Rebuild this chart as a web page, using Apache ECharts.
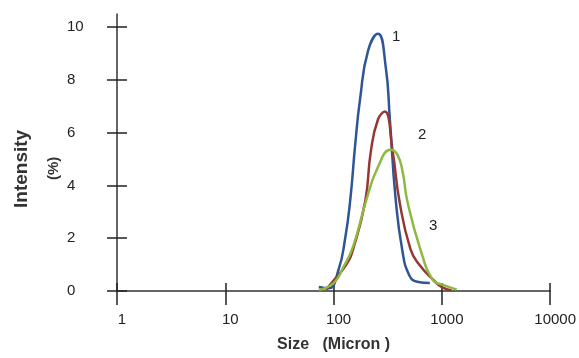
<!DOCTYPE html>
<html>
<head>
<meta charset="utf-8">
<script src="https://cdn.jsdelivr.net/npm/echarts@6/dist/echarts.min.js"></script>
<style>
  html, body { margin: 0; padding: 0; background: #fff; }
  #chart { width: 579px; height: 358px; }
</style>
</head>
<body>
<div id="chart"></div>
<script>
// size (micron) / intensity (%)
const sizes1 = [73, 90, 111, 128, 143, 158, 176, 208, 257, 303, 331, 374, 433, 500, 592, 774]
const values1 = [0.15, 0.1, 0.8, 2, 3.5, 5.5, 7.3, 9.1, 9.75, 8.5, 6.5, 3.5, 1.5, 0.6, 0.35, 0.3]

const sizes2 = [85, 100, 131, 152, 196, 221, 257, 297, 351, 406, 512, 617, 845, 1000, 1230]
const values2 = [0.05, 0.4, 1.0, 1.6, 3.4, 5.3, 6.5, 6.8, 5.3, 3.4, 1.6, 1.0, 0.4, 0.15, 0.02]

const sizes3 = [73, 100, 123, 152, 199, 257, 337, 390, 435, 480, 631, 830, 1000, 1370]
const values3 = [0.05, 0.3, 0.9, 1.7, 3.4, 4.7, 5.35, 5.15, 4.5, 3.4, 1.6, 0.4, 0.25, 0.05]

const xTicks = [1, 10, 100, 1000, 10000]
const yTicks = [0, 2, 4, 6, 8, 10]

const font = "'Liberation Sans', Arial, sans-serif"
const chart = echarts.init(document.getElementById("chart"))

const pairs = (xs, ys) => xs.map((x, i) => [x, ys[i]])

const lineSeries = (name, xs, ys, color) => ({
  name,
  type: "line",
  data: pairs(xs, ys),
  smooth: 0.5,
  showSymbol: false,
  lineStyle: { color, width: 2.5 },
  z: name === "3" ? 4 : name === "2" ? 3 : 2,
})

const xBase = {
  type: "log",
  logBase: 10,
  min: xTicks[0],
  max: xTicks[xTicks.length - 1],
  position: "bottom",
  splitLine: { show: false },
  minorTick: { show: false },
}

const yBase = {
  type: "value",
  min: 0,
  max: 10.5,
  interval: 2,
  position: "left",
  splitLine: { show: false },
}

chart.setOption({
  backgroundColor: "#fff",
  animation: false,
  grid: { left: 117, right: 28, top: 14, bottom: 63 },
  xAxis: [
    {
      ...xBase,
      axisLine: { lineStyle: { color: "#333", width: 1.5 } },
      axisTick: { length: 14, lineStyle: { color: "#222", width: 1.5 } },
      axisLabel: {
        color: "#222",
        fontSize: 15,
        fontFamily: font,
        margin: 21,
        padding: [0, 0, 0, 10],
        formatter: (v) => (xTicks.includes(v) ? String(v) : ""),
      },
      name: "Size   (Micron )",
      nameLocation: "middle",
      nameGap: 46,
      nameTextStyle: { color: "#333", fontSize: 16, fontWeight: "bold", fontFamily: font },
    },
    {
      ...xBase,
      axisLine: { show: false },
      axisTick: { inside: true, length: 8, lineStyle: { color: "#222", width: 1.5 } },
      axisLabel: { show: false },
    },
  ],
  yAxis: [
    {
      ...yBase,
      axisLine: { show: true, lineStyle: { color: "#333", width: 1.5 } },
      axisTick: { show: true, length: 10, customValues: yTicks, lineStyle: { color: "#222", width: 1.5 } },
      axisLabel: {
        color: "#222",
        fontSize: 15,
        fontFamily: font,
        margin: 50,
        align: "left",
        customValues: yTicks,
      },
    },
    {
      ...yBase,
      axisLine: { show: false },
      axisTick: { show: true, inside: true, length: 10, customValues: yTicks, lineStyle: { color: "#222", width: 1.5 } },
      axisLabel: { show: false },
    },
  ],
  graphic: [
    {
      type: "text",
      x: 12, y: 208,
      rotation: Math.PI / 2,
      style: { text: "Intensity", fontSize: 19, fontWeight: "bold", fontFamily: font, fill: "#333" },
    },
    {
      type: "text",
      x: 46, y: 180,
      rotation: Math.PI / 2,
      style: { text: "(%)", fontSize: 15, fontWeight: "bold", fontFamily: font, fill: "#333" },
    },
    { type: "text", x: 392, y: 29, style: { text: "1", fontSize: 15, fontFamily: font, fill: "#222" } },
    { type: "text", x: 418, y: 127, style: { text: "2", fontSize: 15, fontFamily: font, fill: "#222" } },
    { type: "text", x: 429, y: 218, style: { text: "3", fontSize: 15, fontFamily: font, fill: "#222" } },
  ],
  series: [
    lineSeries("1", sizes1, values1, "#2f5597"),
    lineSeries("2", sizes2, values2, "#953735"),
    lineSeries("3", sizes3, values3, "#8fb840"),
  ],
})
</script>
</body>
</html>
